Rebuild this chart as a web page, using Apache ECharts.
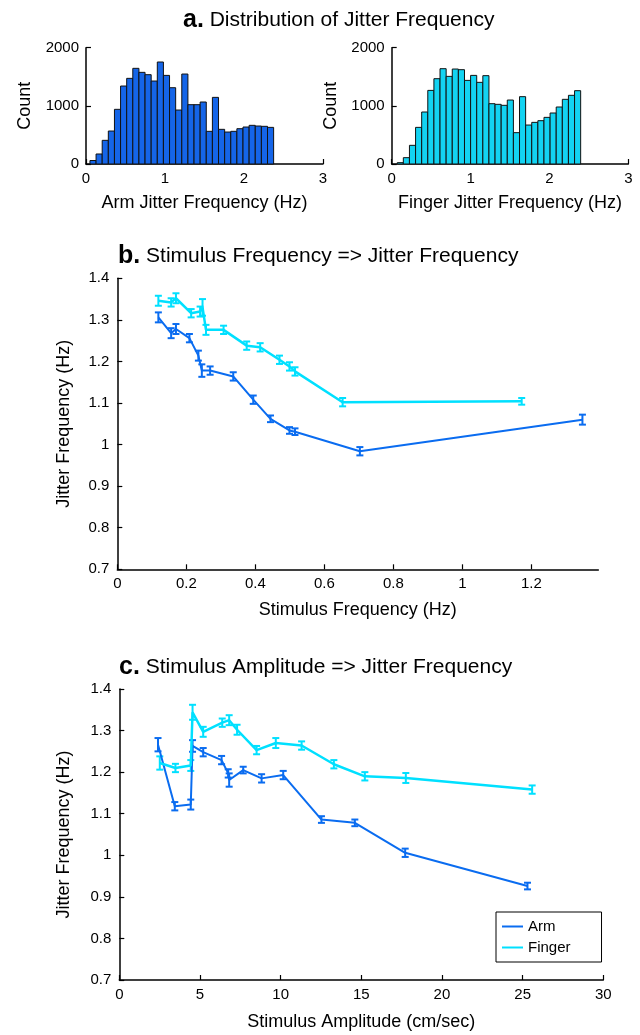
<!DOCTYPE html>
<html>
<head>
<meta charset="utf-8">
<title>Jitter Frequency</title>
<script src="https://cdn.jsdelivr.net/npm/echarts@6/dist/echarts.min.js"></script>
<style>
  html, body { margin: 0; padding: 0; background: #fff; }
  #main { width: 640px; height: 1035px; }
</style>
</head>
<body>
<div id="main"></div>
<script>
// a. histograms (30 bins each)
var binWidth = 0.0775;
var armBinStart = 0.05;
var fingerBinStart = 0.07;
var armCounts = [60, 172, 407, 567, 940, 1341, 1473, 1645, 1576, 1536, 1427, 1754, 1524, 1312, 928,
  1547, 1020, 1020, 1066, 562, 1146, 596, 550, 562, 607, 636, 665, 653, 648, 630];
var fingerCounts = [23, 109, 321, 630, 894, 1266, 1467, 1639, 1507, 1633, 1622, 1438, 1524, 1404, 1519,
  1037, 1026, 1009, 1100, 539, 1158, 670, 716, 745, 802, 877, 980, 1112, 1181, 1261];

// b. stimulus frequency (Hz) -> jitter frequency (Hz)
var bArmFreq = [0.119, 0.156, 0.170, 0.209, 0.235, 0.245, 0.269, 0.336, 0.394, 0.444, 0.499, 0.515, 0.703, 1.348];
var bArmJitter = [1.306, 1.268, 1.278, 1.256, 1.214, 1.178, 1.178, 1.164, 1.108, 1.062, 1.034, 1.031, 0.984, 1.060];
var bArmErr = [0.012, 0.012, 0.012, 0.01, 0.012, 0.015, 0.01, 0.01, 0.01, 0.008, 0.008, 0.008, 0.01, 0.012];
var bFingerFreq = [0.119, 0.156, 0.170, 0.214, 0.240, 0.247, 0.257, 0.308, 0.375, 0.414, 0.470, 0.499, 0.515, 0.653, 1.172];
var bFingerJitter = [1.346, 1.342, 1.352, 1.316, 1.320, 1.330, 1.276, 1.276, 1.238, 1.234, 1.204, 1.188, 1.176, 1.102, 1.104];
var bFingerErr = [0.012, 0.01, 0.012, 0.01, 0.012, 0.02, 0.012, 0.01, 0.01, 0.01, 0.01, 0.01, 0.01, 0.01, 0.008];

// c. stimulus amplitude (cm/sec) -> jitter frequency (Hz)
var cArmAmp = [2.4, 3.44, 4.43, 4.54, 5.2, 6.34, 6.75, 6.81, 7.68, 8.82, 10.16, 12.53, 14.6, 17.72, 25.3];
var cArmJitter = [1.266, 1.118, 1.122, 1.263, 1.248, 1.229, 1.197, 1.181, 1.205, 1.185, 1.193, 1.086, 1.078, 1.006, 0.926];
var cArmErr = [0.016, 0.01, 0.012, 0.014, 0.01, 0.01, 0.01, 0.016, 0.008, 0.01, 0.01, 0.008, 0.008, 0.01, 0.008];
var cFingerAmp = [2.51, 3.48, 4.43, 4.54, 5.2, 6.38, 6.81, 7.3, 8.51, 9.7, 11.3, 13.3, 15.22, 17.76, 25.59];
var cFingerJitter = [1.222, 1.210, 1.216, 1.344, 1.297, 1.319, 1.325, 1.302, 1.253, 1.270, 1.264, 1.219, 1.190, 1.186, 1.158];
var cFingerErr = [0.016, 0.01, 0.013, 0.018, 0.012, 0.01, 0.012, 0.012, 0.01, 0.012, 0.01, 0.01, 0.01, 0.012, 0.01];

var FONT = '"Liberation Sans", Arial, Helvetica, sans-serif';
var ARM = '#0a6cf0';
var FINGER = '#00e0ff';

function histData(start, counts) {
  return counts.map(function (c, i) {
    return [start + i * binWidth, start + (i + 1) * binWidth, c];
  });
}
function pairs(xs, ys) {
  return xs.map(function (x, i) { return [x, ys[i]]; });
}
function errData(xs, ys, es) {
  return xs.map(function (x, i) { return [x, ys[i] - es[i], ys[i] + es[i]]; });
}

// bars of the histogram, via the axis scales
function histItem(color) {
  return function (params, api) {
    var p0 = api.coord([api.value(0), api.value(2)]);
    var p1 = api.coord([api.value(1), 0]);
    return {
      type: 'rect',
      shape: { x: p0[0], y: p0[1], width: p1[0] - p0[0], height: p1[1] - p0[1] },
      style: { fill: color, stroke: '#111', lineWidth: 1 }
    };
  };
}
// I-shaped error bar
function errItem(color) {
  return function (params, api) {
    var lo = api.coord([api.value(0), api.value(1)]);
    var hi = api.coord([api.value(0), api.value(2)]);
    var w = 3.5;
    var st = { stroke: color, lineWidth: 2 };
    return {
      type: 'group',
      children: [
        { type: 'line', shape: { x1: lo[0], y1: lo[1], x2: hi[0], y2: hi[1] }, style: st },
        { type: 'line', shape: { x1: lo[0] - w, y1: lo[1], x2: lo[0] + w, y2: lo[1] }, style: st },
        { type: 'line', shape: { x1: hi[0] - w, y1: hi[1], x2: hi[0] + w, y2: hi[1] }, style: st }
      ]
    };
  };
}

function axis(o) {
  var base = {
    type: 'value',
    splitLine: { show: false },
    axisLine: { show: true, onZero: false, lineStyle: { color: '#000', width: 1.5 } },
    axisTick: { show: true, inside: true, length: 5, lineStyle: { color: '#000', width: 1.2 } },
    axisLabel: { color: '#000', fontSize: 15, fontFamily: FONT, margin: 7,
      formatter: function (v) { return String(v); } },
    nameLocation: 'middle',
    nameTextStyle: { color: '#000', fontSize: 18, fontFamily: FONT }
  };
  return Object.assign(base, o);
}
function oneDec(v) { return Math.abs(v - 1) < 1e-9 ? '1' : v.toFixed(1); }

var myChart = echarts.init(document.getElementById('main'), null, { renderer: 'canvas' });

var option = {
  backgroundColor: '#fff',
  animation: false,
  title: [
    { left: 178, top: 3, text: '{b|a.} Distribution of Jitter Frequency',
      textStyle: { fontSize: 21, fontWeight: 'normal', color: '#000', fontFamily: FONT,
        rich: { b: { fontSize: 25, fontWeight: 'bold', color: '#000', fontFamily: FONT } } } },
    { left: 113, top: 239, text: '{b|b.} Stimulus Frequency => Jitter Frequency',
      textStyle: { fontSize: 21, fontWeight: 'normal', color: '#000', fontFamily: FONT,
        rich: { b: { fontSize: 25, fontWeight: 'bold', color: '#000', fontFamily: FONT } } } },
    { left: 114, top: 650, text: '{b|c.} Stimulus Amplitude => Jitter Frequency',
      textStyle: { fontSize: 21, fontWeight: 'normal', color: '#000', fontFamily: FONT,
        rich: { b: { fontSize: 25, fontWeight: 'bold', color: '#000', fontFamily: FONT } } } }
  ],
  legend: {
    data: [{ name: 'Arm', icon: 'rect' }, { name: 'Finger', icon: 'rect' }],
    orient: 'vertical',
    left: 496, top: 912,
    itemWidth: 21, itemHeight: 2, itemGap: 6,
    padding: [7, 31, 7, 6],
    borderColor: '#000', borderWidth: 1,
    backgroundColor: '#fff',
    textStyle: { color: '#000', fontSize: 15, fontFamily: FONT }
  },
  grid: [
    { left: 86, top: 47.7, width: 237, height: 116.3, outerBoundsMode: 'none' },
    { left: 391.7, top: 47.7, width: 236.7, height: 116.3, outerBoundsMode: 'none' },
    { left: 117.3, top: 278.3, width: 481, height: 291, outerBoundsMode: 'none' },
    { left: 119.3, top: 689, width: 484, height: 291, outerBoundsMode: 'none' }
  ],
  xAxis: [
    axis({ gridIndex: 0, min: 0, max: 3, interval: 1, name: 'Arm Jitter Frequency (Hz)', nameGap: 30 }),
    axis({ gridIndex: 1, min: 0, max: 3, interval: 1, name: 'Finger Jitter Frequency (Hz)', nameGap: 30 }),
    axis({ gridIndex: 2, min: 0, max: 1.394, interval: 0.2, name: 'Stimulus Frequency (Hz)', nameGap: 32,
      axisLabel: { color: '#000', fontSize: 15, fontFamily: FONT, margin: 7, showMaxLabel: false,
        formatter: function (v) { return v === 0 ? '0' : (Math.abs(v - 1) < 1e-9 ? '1' : v.toFixed(1)); } } }),
    axis({ gridIndex: 3, min: 0, max: 30, interval: 5, name: 'Stimulus Amplitude (cm/sec)', nameGap: 33 })
  ],
  yAxis: [
    axis({ gridIndex: 0, min: 0, max: 2000, interval: 1000, name: 'Count', nameGap: 52 }),
    axis({ gridIndex: 1, min: 0, max: 2000, interval: 1000, name: 'Count', nameGap: 52 }),
    axis({ gridIndex: 2, min: 0.7, max: 1.4, interval: 0.1, name: 'Jitter Frequency (Hz)', nameGap: 44,
      axisLabel: { color: '#000', fontSize: 15, fontFamily: FONT, margin: 8, formatter: oneDec } }),
    axis({ gridIndex: 3, min: 0.7, max: 1.4, interval: 0.1, name: 'Jitter Frequency (Hz)', nameGap: 46,
      axisLabel: { color: '#000', fontSize: 15, fontFamily: FONT, margin: 8, formatter: oneDec } })
  ],
  series: [
    { type: 'custom', name: 'armHist', xAxisIndex: 0, yAxisIndex: 0, renderItem: histItem('#1565e8'),
      encode: { x: [0, 1], y: 2 }, data: histData(armBinStart, armCounts) },
    { type: 'custom', name: 'fingerHist', xAxisIndex: 1, yAxisIndex: 1, renderItem: histItem('#13d3f2'),
      encode: { x: [0, 1], y: 2 }, data: histData(fingerBinStart, fingerCounts) },

    { type: 'line', name: 'Arm', xAxisIndex: 2, yAxisIndex: 2, showSymbol: false, color: ARM,
      lineStyle: { width: 2 }, data: pairs(bArmFreq, bArmJitter) },
    { type: 'line', name: 'Finger', xAxisIndex: 2, yAxisIndex: 2, showSymbol: false, color: FINGER,
      lineStyle: { width: 2.5 }, data: pairs(bFingerFreq, bFingerJitter) },
    { type: 'custom', name: 'bArmErr', xAxisIndex: 2, yAxisIndex: 2, renderItem: errItem(ARM),
      encode: { x: 0, y: [1, 2] }, data: errData(bArmFreq, bArmJitter, bArmErr) },
    { type: 'custom', name: 'bFingerErr', xAxisIndex: 2, yAxisIndex: 2, renderItem: errItem(FINGER),
      encode: { x: 0, y: [1, 2] }, data: errData(bFingerFreq, bFingerJitter, bFingerErr) },

    { type: 'line', name: 'Arm', xAxisIndex: 3, yAxisIndex: 3, showSymbol: false, color: ARM,
      lineStyle: { width: 2 }, data: pairs(cArmAmp, cArmJitter) },
    { type: 'line', name: 'Finger', xAxisIndex: 3, yAxisIndex: 3, showSymbol: false, color: FINGER,
      lineStyle: { width: 2.5 }, data: pairs(cFingerAmp, cFingerJitter) },
    { type: 'custom', name: 'cArmErr', xAxisIndex: 3, yAxisIndex: 3, renderItem: errItem(ARM),
      encode: { x: 0, y: [1, 2] }, data: errData(cArmAmp, cArmJitter, cArmErr) },
    { type: 'custom', name: 'cFingerErr', xAxisIndex: 3, yAxisIndex: 3, renderItem: errItem(FINGER),
      encode: { x: 0, y: [1, 2] }, data: errData(cFingerAmp, cFingerJitter, cFingerErr) }
  ]
};
myChart.setOption(option);
</script>
</body>
</html>
